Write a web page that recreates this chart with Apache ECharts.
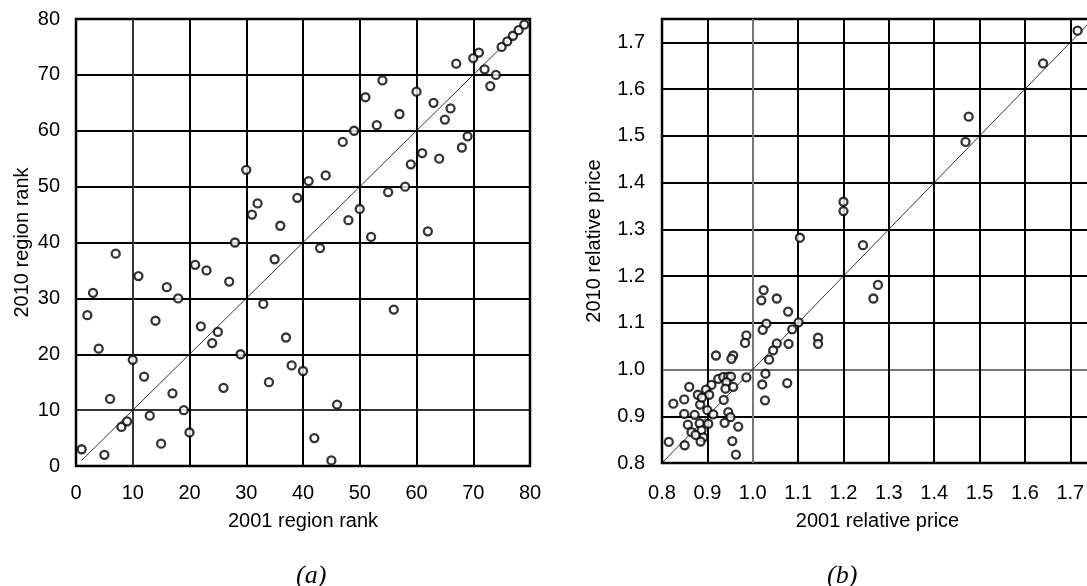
<!DOCTYPE html>
<html>
<head>
<meta charset="utf-8">
<script src="https://cdn.jsdelivr.net/npm/echarts@6/dist/echarts.min.js"></script>
<style>
  html, body { margin: 0; padding: 0; background: #fff; overflow: hidden; }
  #chart { width: 1110px; height: 586px; }
</style>
</head>
<body>
<div id="chart"></div>
<script>
// Panel (a): region rank in 2001 vs 2010
const rank2001 = [1,2,3,4,5,6,7,8,9,10,11,12,13,14,15,16,17,18,19,20,
  21,22,23,24,25,26,27,28,29,30,31,32,33,34,35,36,37,38,39,40,
  41,42,43,44,45,46,47,48,49,50,51,52,53,54,55,56,57,58,59,60,
  61,62,63,64,65,66,67,68,69,70,71,72,73,74,75,76,77,78,79];
const rank2010 = [3,27,31,21,2,12,38,7,8,19,34,16,9,26,4,32,13,30,10,6,
  36,25,35,22,24,14,33,40,20,53,45,47,29,15,37,43,23,18,48,17,
  51,5,39,52,1,11,58,44,60,46,66,41,61,69,49,28,63,50,54,67,
  56,42,65,55,62,64,72,57,59,73,74,71,68,70,75,76,77,78,79];

// Panel (b): relative price in 2001 vs 2010
const price2001 = [1.716,1.640,1.476,1.469,1.200,1.200,1.104,1.243,1.276,1.266,
  1.024,1.019,1.053,1.078,1.030,1.022,1.101,1.087,1.144,1.144,
  1.053,1.079,0.986,0.983,1.045,1.036,0.919,0.957,0.953,0.986,
  1.028,1.021,1.076,1.027,0.924,0.935,0.946,0.952,0.942,0.940,
  0.957,0.909,0.860,0.897,0.879,0.904,0.849,0.825,0.884,0.936,
  0.849,0.872,0.900,0.913,0.946,0.951,0.938,0.968,0.857,0.883,
  0.902,0.865,0.887,0.891,0.815,0.850,0.955,0.963,0.885,0.888,0.874];
const price2010 = [1.725,1.655,1.541,1.487,1.359,1.339,1.282,1.266,1.181,1.152,
  1.170,1.148,1.152,1.124,1.098,1.085,1.101,1.086,1.068,1.055,
  1.056,1.055,1.073,1.057,1.041,1.021,1.030,1.030,1.023,0.983,
  0.991,0.968,0.971,0.934,0.980,0.984,0.985,0.985,0.973,0.959,
  0.963,0.967,0.963,0.957,0.946,0.946,0.936,0.927,0.925,0.935,
  0.905,0.903,0.913,0.904,0.909,0.898,0.886,0.878,0.882,0.885,
  0.884,0.866,0.870,0.855,0.845,0.838,0.847,0.818,0.846,0.940,0.860];

// Axis extents: [min, max, step]
const rankScale = [0, 80, 10];
const priceScale = [0.8, 1.75, 0.1];

const rankPoints = rank2001.map((x, i) => [x, rank2010[i]]);
const pricePoints = price2001.map((x, i) => [x, price2010[i]]);

const FONT = '"Liberation Sans", Arial, sans-serif';
const SERIF = '"Liberation Serif", "Times New Roman", serif';
const labelStyle = { color: '#000', fontFamily: FONT, fontSize: 20 };
const nameStyle = { color: '#000', fontFamily: FONT, fontSize: 20 };

// one colour per grid line; the line at `mark` gets a lighter tone
function gridColors(scale, mark, tone) {
  const cols = [];
  for (let v = scale[0]; v <= scale[1] + 1e-9; v += scale[2]) {
    cols.push(Math.abs(v - mark) < 1e-6 ? tone : '#000');
  }
  return cols;
}

function makeAxis(scale, gridIndex, opts) {
  return Object.assign({
    type: 'value',
    gridIndex: gridIndex,
    min: scale[0],
    max: scale[1],
    interval: scale[2],
    axisLine: { show: false },
    axisTick: { show: false },
    nameLocation: 'middle',
    nameTextStyle: nameStyle
  }, opts);
}

const scatterStyle = {
  color: '#fff',
  borderColor: '#000',
  borderWidth: 2.3
};

const captionStyle = { fontFamily: SERIF, fontStyle: 'italic', fontWeight: 'normal', fontSize: 26, color: '#000' };

const chart = echarts.init(document.getElementById('chart'), null, { renderer: 'canvas' });

chart.setOption({
  animation: false,
  backgroundColor: '#fff',
  title: [
    { text: '(a)', left: 291, top: 558, textStyle: captionStyle },
    { text: '(b)', left: 822, top: 558, textStyle: captionStyle }
  ],
  grid: [
    { left: 76, top: 19, width: 454, height: 447, show: true, borderColor: '#000', borderWidth: 2.5, backgroundColor: 'transparent' },
    { left: 662, top: 19, width: 431, height: 444, show: true, borderColor: '#000', borderWidth: 2.5, backgroundColor: 'transparent' }
  ],
  xAxis: [
    makeAxis(rankScale, 0, {
      name: '2001 region rank', nameGap: 45,
      axisLabel: Object.assign({ margin: 17 }, labelStyle),
      splitLine: { show: true, lineStyle: { color: gridColors(rankScale, 10, '#333'), width: 2 } }
    }),
    makeAxis(priceScale, 1, {
      name: '2001 relative price', nameGap: 48,
      axisLabel: Object.assign({ margin: 20, showMaxLabel: false, formatter: v => v.toFixed(1) }, labelStyle),
      splitLine: { show: true, lineStyle: { color: gridColors(priceScale, 1.0, '#777'), width: 2 } }
    })
  ],
  yAxis: [
    makeAxis(rankScale, 0, {
      name: '2010 region rank', nameGap: 44,
      axisLabel: Object.assign({ margin: 16 }, labelStyle),
      splitLine: { show: true, lineStyle: { color: gridColors(rankScale, 10, '#333'), width: 2 } }
    }),
    makeAxis(priceScale, 1, {
      name: '2010 relative price', nameGap: 58,
      axisLabel: Object.assign({ margin: 17, showMaxLabel: false, formatter: v => v.toFixed(1) }, labelStyle),
      splitLine: { show: true, lineStyle: { color: gridColors(priceScale, 1.0, '#777'), width: 2 } }
    })
  ],
  series: [
    {
      type: 'line', xAxisIndex: 0, yAxisIndex: 0,
      data: [[1, 1], [rankScale[1], rankScale[1]]],
      symbol: 'none', lineStyle: { color: '#000', width: 0.8 }, silent: true, z: 3
    },
    {
      type: 'scatter', xAxisIndex: 0, yAxisIndex: 0,
      data: rankPoints, symbol: 'circle', symbolSize: 8,
      itemStyle: scatterStyle, z: 4
    },
    {
      type: 'line', xAxisIndex: 1, yAxisIndex: 1,
      data: [[priceScale[0], priceScale[0]], [priceScale[1], priceScale[1]]],
      symbol: 'none', lineStyle: { color: '#000', width: 0.8 }, silent: true, z: 3
    },
    {
      type: 'scatter', xAxisIndex: 1, yAxisIndex: 1,
      data: pricePoints, symbol: 'circle', symbolSize: 8,
      itemStyle: scatterStyle, z: 4
    }
  ]
});
</script>
</body>
</html>
